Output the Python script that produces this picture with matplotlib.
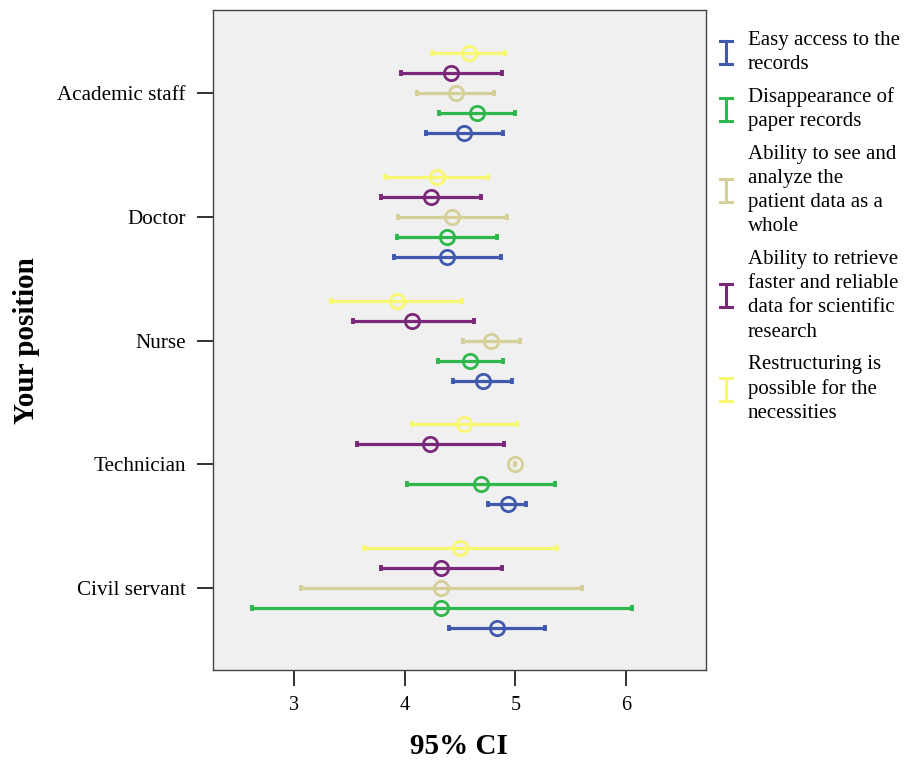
import matplotlib
matplotlib.use("Agg")
import matplotlib.pyplot as plt
from matplotlib.lines import Line2D
import numpy as np

# Categories (top to bottom) and series
positions = ["Academic staff", "Doctor", "Nurse", "Technician", "Civil servant"]
series_names = [
    "Easy access to the\nrecords",
    "Disappearance of\npaper records",
    "Ability to see and\nanalyze the\npatient data as a\nwhole",
    "Ability to retrieve\nfaster and reliable\ndata for scientific\nresearch",
    "Restructuring is\npossible for the\nnecessities",
]
series_colors = ["#3F59AD", "#2EB84B", "#D5CF98", "#7A287A", "#F8F770"]

# Means and 95% CI bounds per series, in the order of `positions`
easy_mean = [4.54, 4.38, 4.71, 4.93, 4.83]
easy_low = [4.19, 3.90, 4.44, 4.75, 4.40]
easy_high = [4.89, 4.87, 4.97, 5.10, 5.27]

paper_mean = [4.65, 4.38, 4.59, 4.69, 4.33]
paper_low = [4.31, 3.93, 4.30, 4.02, 2.62]
paper_high = [5.00, 4.83, 4.89, 5.36, 6.05]

whole_mean = [4.46, 4.43, 4.78, 5.00, 4.33]
whole_low = [4.11, 3.94, 4.53, 5.00, 3.06]
whole_high = [4.81, 4.92, 5.04, 5.00, 5.60]

research_mean = [4.42, 4.24, 4.07, 4.23, 4.33]
research_low = [3.97, 3.79, 3.53, 3.57, 3.79]
research_high = [4.88, 4.69, 4.63, 4.90, 4.88]

restr_mean = [4.58, 4.29, 3.93, 4.54, 4.50]
restr_low = [4.25, 3.82, 3.33, 4.07, 3.63]
restr_high = [4.91, 4.75, 4.52, 5.01, 5.38]

means = [easy_mean, paper_mean, whole_mean, research_mean, restr_mean]
lows = [easy_low, paper_low, whole_low, research_low, restr_low]
highs = [easy_high, paper_high, whole_high, research_high, restr_high]

x_ticks = [3, 4, 5, 6]

plt.rcParams["font.family"] = ["Liberation Serif", "DejaVu Serif"]

W, H = 905, 761
fig = plt.figure(figsize=(W / 100, H / 100), dpi=100)
fig.patch.set_facecolor("white")

ax_l, ax_r, ax_t, ax_b = 213, 706, 10, 670
ax = fig.add_axes([ax_l / W, 1 - ax_b / H, (ax_r - ax_l) / W, (ax_b - ax_t) / H])
ax.set_facecolor("#F0F0F0")

# vertical offsets of the five series inside a category (blue lowest)
step = 0.1613
offsets = [2 * step, step, 0.0, -step, -2 * step]
cat_idx = np.arange(len(positions))

for k in range(len(series_names)):
    m = np.array(means[k])
    lo = np.array(lows[k])
    hi = np.array(highs[k])
    y = cat_idx + offsets[k]
    ax.errorbar(m, y, xerr=[m - lo, hi - m], fmt="none", ecolor=series_colors[k],
                elinewidth=2.3, capsize=2.0, capthick=2.8, zorder=2)
    ax.plot(m, y, linestyle="none", marker="o", markersize=10.3,
            markerfacecolor="none", markeredgecolor=series_colors[k],
            markeredgewidth=2.0, zorder=3)

ax.set_xlim(2.268, 6.722)
ax.set_ylim(4.66, -0.67)
ax.set_xticks(x_ticks)
ax.set_xticklabels([str(t) for t in x_ticks], fontsize=14.5)
ax.set_yticks(cat_idx)
ax.set_yticklabels(positions, fontsize=15.2)
ax.tick_params(axis="both", direction="out", length=11.5, width=1.3, color="#222222")
ax.tick_params(axis="y", pad=8)
ax.tick_params(axis="x", pad=7)
for s in ax.spines.values():
    s.set_color("#444444")
    s.set_linewidth(1.0)

fig.text(27 / W, 1 - 341 / H, "Your position", rotation=90, fontsize=21,
         fontweight="bold", ha="center", va="center")
fig.text(459 / W, 1 - 746 / H, "95% CI", fontsize=21, fontweight="bold",
         ha="center", va="center")

# legend: error-bar glyphs with wrapped labels
line_h = 24.2
gap = 8.6
top = 28.0
icon_x = 726
text_x = 748
for k, name in enumerate(series_names):
    lines = name.split("\n")
    n = len(lines)
    for j, ln in enumerate(lines):
        yc = top + line_h * (j + 0.5)
        fig.text(text_x / W, 1 - yc / H, ln, fontsize=15, ha="left", va="center")
    center = top + line_h * n / 2
    y0, y1 = center - 11.5, center + 11.5
    col = series_colors[k]
    fig.add_artist(Line2D([icon_x / W, icon_x / W], [1 - y0 / H, 1 - y1 / H],
                          color=col, linewidth=2.2, transform=fig.transFigure))
    for yy in (y0, y1):
        fig.add_artist(Line2D([(icon_x - 6) / W, (icon_x + 6) / W],
                              [1 - yy / H, 1 - yy / H], color=col, linewidth=2.2,
                              transform=fig.transFigure))
    top += line_h * n + gap

fig.savefig("out.png", dpi=100)
